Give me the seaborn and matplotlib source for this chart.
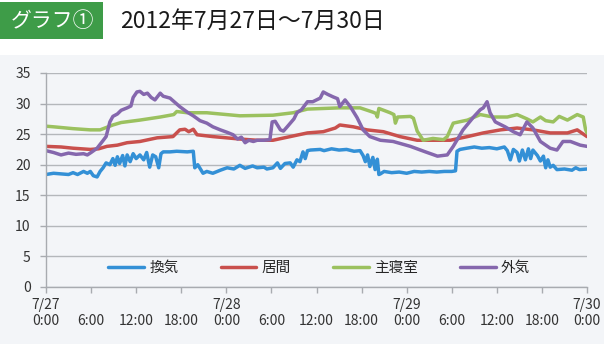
import matplotlib
matplotlib.use("Agg")
import matplotlib.pyplot as plt
import seaborn as sns
import pandas as pd
from matplotlib.patches import Rectangle
from matplotlib.lines import Line2D

sns.set_theme(style="white")
plt.rcParams['font.family'] = ['Noto Sans CJK JP', 'DejaVu Sans']

series_names = ["換気", "居間", "主寝室", "外気"]
colors = ["#3390d6", "#c9504d", "#9bc15f", "#8567ad"]

# hours since 7/27 0:00 and temperatures (°C)
vent_h = [0, 1, 2, 3, 3.6, 4.2, 5, 5.5, 5.9, 6.3, 6.8, 7.2, 7.6, 8.0, 8.5, 8.9, 9.2, 9.5, 9.8, 10.2, 10.5, 10.8, 11.2, 11.6, 12.0, 12.5, 13.0, 13.4, 13.8, 14.2, 14.6, 15.0, 15.3, 15.6, 16.5, 17.4, 18.8, 19.6, 19.8, 20.2, 20.9, 21.4, 22.2, 23.2, 24.1, 25, 25.8, 26.5, 27.5, 28.1, 29, 29.4, 30.2, 30.8, 31.2, 31.8, 32.5, 32.9, 33.4, 33.8, 34.2, 34.5, 34.8, 35.2, 36.5, 37, 38, 39, 40, 41, 41.8, 42.2, 42.5, 42.8, 43.1, 43.5, 43.8, 44.1, 44.3, 44.5, 45, 46, 47, 48, 49, 50, 51, 52, 53, 54, 54.5, 54.7, 55.1, 56, 57, 58, 59, 60, 61, 61.4, 61.8, 62.2, 62.7, 63.0, 63.4, 63.8, 64.2, 64.5, 64.8, 65.4, 65.8, 66.2, 66.5, 66.8, 67.1, 67.5, 68, 69, 70, 70.5, 71, 72]
vent_t = [18.4, 18.6, 18.5, 18.4, 18.7, 18.4, 18.9, 18.6, 18.9, 18.2, 18.0, 18.9, 19.5, 20.3, 20.0, 21.0, 19.9, 21.3, 20.2, 21.5, 19.8, 21.6, 20.5, 21.8, 21.0, 21.6, 20.8, 22.0, 19.6, 21.6, 21.3, 19.5, 21.8, 22.1, 22.1, 22.2, 22.1, 22.2, 19.5, 20.0, 18.6, 18.9, 18.6, 19.1, 19.5, 19.3, 19.9, 19.4, 19.8, 19.5, 19.6, 19.3, 19.5, 20.3, 19.4, 20.2, 20.3, 19.6, 20.8, 20.5, 22.1, 21.0, 22.3, 22.4, 22.5, 22.3, 22.6, 22.4, 22.5, 22.2, 22.3, 21.5, 20.5, 21.6, 19.7, 21.2, 19.2, 20.9, 18.4, 18.5, 18.9, 18.7, 18.8, 18.6, 18.9, 18.8, 18.9, 18.8, 18.9, 18.9, 19.0, 22.2, 22.5, 22.7, 22.9, 22.7, 22.8, 22.6, 22.9, 22.3, 20.8, 22.5, 22.0, 20.6, 22.4, 20.8, 22.6, 21.0, 22.4, 21.5, 20.6, 21.4, 19.5, 20.8, 19.6, 19.9, 19.2, 19.3, 19.1, 19.5, 19.2, 19.3]

living_h = [0, 2, 3.6, 5.9, 7, 8.1, 9.5, 10.8, 12.5, 14.8, 16.9, 17.8, 18.5, 19.0, 19.6, 20.1, 22.2, 25.8, 28.1, 30.2, 32.5, 34.8, 36.9, 38.5, 39.1, 40.9, 42.7, 44.9, 47.1, 49.4, 51.5, 53.8, 56.1, 58.2, 60.5, 62.7, 64.8, 67.1, 69.4, 70.7, 72]
living_t = [23.0, 22.9, 22.7, 22.5, 22.6, 23.0, 23.2, 23.6, 23.8, 24.4, 24.6, 25.7, 25.8, 25.4, 25.8, 24.9, 24.6, 24.2, 24.0, 24.0, 24.6, 25.2, 25.4, 26.0, 26.5, 26.2, 25.7, 25.4, 24.6, 24.0, 24.0, 24.0, 24.6, 25.2, 25.7, 26.0, 25.7, 25.2, 25.2, 25.7, 24.6]

bedroom_h = [0, 1, 3.6, 5.9, 7.2, 8.9, 10, 12.5, 15.2, 17.0, 17.4, 18.8, 21.4, 25.8, 30.2, 32.9, 34.8, 39.1, 41.8, 43.5, 43.9, 44.1, 44.3, 45.8, 46.3, 46.5, 46.8, 48.5, 48.9, 49.4, 50.2, 51.5, 52.9, 53.4, 54.2, 56.1, 57.8, 59.5, 61.4, 62.7, 64.0, 64.8, 65.8, 66.5, 67.5, 68.3, 69.4, 70.7, 71.5, 71.8, 72]
bedroom_t = [26.3, 26.2, 25.9, 25.7, 25.7, 26.5, 26.9, 27.3, 27.8, 28.2, 28.7, 28.5, 28.5, 28.0, 28.1, 28.5, 29.1, 29.3, 29.3, 28.6, 28.4, 27.8, 29.2, 28.5, 28.2, 26.8, 27.8, 27.9, 27.6, 25.5, 24.0, 24.3, 24.1, 24.6, 26.8, 27.3, 28.2, 27.8, 27.8, 28.2, 27.5, 27.0, 27.8, 27.2, 27.0, 27.9, 27.3, 28.2, 27.8, 25.8, 25.2]

outdoor_h = [0, 1, 2, 3, 4, 5, 5.5, 6, 6.8, 7.5, 8.0, 8.5, 8.9, 9.5, 10, 10.8, 11.3, 11.6, 12.1, 12.5, 13.0, 13.5, 14.0, 14.5, 15.2, 15.6, 16.5, 17.8, 18.8, 19.6, 20.5, 21.4, 22.2, 23.2, 24.1, 24.9, 25.5, 26.0, 26.5, 27.0, 27.6, 28.1, 29.0, 29.8, 30.1, 30.5, 31.2, 31.6, 32.1, 33.0, 33.4, 34.0, 34.8, 35.5, 36.5, 36.9, 37.5, 38.2, 38.8, 39.1, 39.8, 40.5, 41.0, 41.4, 42.2, 43.1, 44.5, 46.2, 48.5, 50.5, 52.1, 53.4, 54.2, 55.5, 56.9, 57.8, 58.2, 58.7, 59.1, 59.8, 61.1, 62.2, 63.1, 64.0, 64.8, 65.8, 67.1, 68.0, 68.8, 69.8, 71.1, 72]
outdoor_t = [22.3, 22.0, 21.6, 21.9, 21.7, 21.8, 21.6, 22.0, 22.7, 23.8, 24.6, 27.0, 27.9, 28.3, 28.9, 29.3, 29.6, 31.0, 31.9, 32.0, 31.5, 31.7, 31.0, 30.6, 31.7, 31.2, 30.9, 29.5, 28.6, 28.0, 27.2, 26.8, 26.2, 25.7, 25.3, 24.9, 24.2, 24.5, 23.6, 24.0, 23.8, 24.0, 24.0, 24.1, 27.0, 27.1, 25.7, 25.5, 26.2, 27.5, 28.5, 29.0, 30.3, 30.3, 30.9, 31.9, 31.5, 31.1, 30.8, 29.5, 30.6, 29.5, 28.5, 27.7, 25.7, 24.6, 24.0, 23.8, 23.0, 22.1, 21.4, 21.6, 23.0, 25.7, 27.8, 29.0, 29.3, 30.3, 28.5, 27.0, 26.2, 25.4, 24.9, 27.0, 26.0, 23.8, 22.7, 22.4, 23.8, 23.8, 23.2, 23.0]

x_ticks = list(range(0, 73, 6))
x_labels = ["7/27\n0:00", "\n6:00", "\n12:00", "\n18:00", "7/28\n0:00", "\n6:00", "\n12:00", "\n18:00",
            "7/29\n0:00", "\n6:00", "\n12:00", "\n18:00", "7/30\n0:00"]
y_ticks = [0, 5, 10, 15, 20, 25, 30, 35]

frames = []
for name, hh, tt in zip(series_names, [vent_h, living_h, bedroom_h, outdoor_h],
                        [vent_t, living_t, bedroom_t, outdoor_t]):
    frames.append(pd.DataFrame({"h": hh, "t": tt, "s": name}))
df = pd.concat(frames, ignore_index=True)

W, H = 604, 344
fig = plt.figure(figsize=(W / 100, H / 100), dpi=100)
fig.patch.set_facecolor("white")
fig.patches.append(Rectangle((0, 0), 1, 1 - 55 / H, transform=fig.transFigure,
                             facecolor="#f3f5f8", edgecolor="none", zorder=-10))
fig.patches.append(Rectangle((0, 1 - 39 / H), 103 / W, 37 / H, transform=fig.transFigure,
                             facecolor="#3e9c48", edgecolor="none", zorder=-5))
fig.text(53 / W, 1 - 21 / H, "グラフ①", color="white", fontsize=15, ha="center", va="center")
fig.text(120 / W, 1 - 21 / H, "2012年7月27日～7月30日", color="#1a1a1a", fontsize=16.5,
         ha="left", va="center")

ax = fig.add_axes([46 / W, 1 - 287 / H, (587 - 46) / W, (287 - 73) / H])
ax.set_facecolor("none")
sns.lineplot(data=df, x="h", y="t", hue="s", hue_order=series_names, palette=colors,
             estimator=None, sort=True, linewidth=2.5, legend=False, ax=ax)

ax.set_xlim(0, 72)
ax.set_ylim(0, 35)
ax.set_xticks(x_ticks)
ax.set_xticklabels(x_labels, fontsize=10, color="#333333", linespacing=1.15)
ax.set_yticks(y_ticks)
ax.set_yticklabels([str(v) for v in y_ticks], fontsize=10, color="#333333")
ax.set_xlabel("")
ax.set_ylabel("")
ax.grid(axis="y", color="#b4b7bb", linewidth=1)
ax.grid(axis="x", visible=False)
for s in ["top", "right"]:
    ax.spines[s].set_visible(False)
for s in ["left", "bottom"]:
    ax.spines[s].set_color("#a8abb0")
    ax.spines[s].set_linewidth(1)
ax.tick_params(axis="both", which="both", length=4, width=1, color="#a8abb0")
ax.tick_params(axis="x", pad=4, bottom=True)
ax.tick_params(axis="y", pad=7, left=True)

handles = [Line2D([0], [0], color=c, lw=2.5) for c in colors]
ax.legend(handles, series_names, loc="center", bbox_to_anchor=(0.505, 0.089), ncol=4,
          frameon=False, fontsize=10.5, handlelength=2.45, handletextpad=0.35,
          columnspacing=2.9, borderaxespad=0)

fig.savefig("out.png", dpi=100)
